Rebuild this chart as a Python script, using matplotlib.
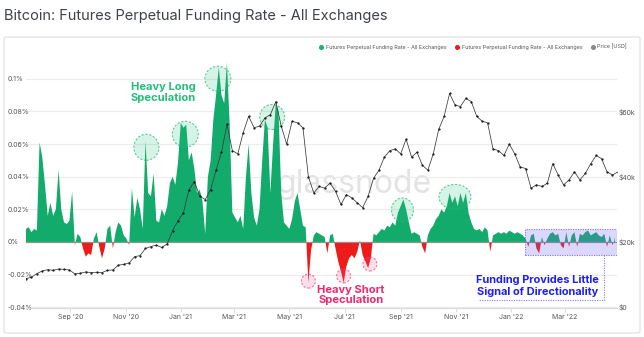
import matplotlib
matplotlib.use("Agg")
import matplotlib.pyplot as plt
import matplotlib.dates as mdates
from matplotlib.patches import Ellipse, Rectangle, FancyBboxPatch
from matplotlib.transforms import ScaledTranslation
from matplotlib.lines import Line2D
import numpy as np
import pandas as pd

# -----------------------------
# Data
# -----------------------------
start_date = "2020-07-14"

# funding rate in %, one value every 3 days
funding_rate = [
    0.008, 0.009, 0.006, 0.008, 0.007, 0.061, 0.052, 0.035, 0.016, 0.024,
    0.016, 0.020, 0.044, 0.020, 0.012, 0.011, 0.013, 0.031, -0.002, 0.005,
    0.003, -0.004, -0.009, -0.007, -0.008, 0.002, 0.006, -0.003, -0.010, -0.004,
    0.008, 0.010, -0.004, 0.006, 0.012, 0.010, 0.004, 0.002, -0.002, 0.033,
    0.015, 0.027, 0.020, 0.008, 0.062, 0.030, 0.028, 0.042, 0.013, 0.012,
    0.020, 0.016, 0.022, 0.036, 0.040, 0.035, 0.049, 0.073, 0.070, 0.072,
    0.050, 0.055, 0.045, 0.030, 0.032, 0.025, 0.005, 0.040, 0.050, 0.075,
    0.090, 0.107, 0.090, 0.085, 0.110, 0.073, 0.018, 0.015, 0.012, 0.016,
    0.008, 0.040, 0.060, 0.030, 0.015, 0.010, 0.020, 0.050, 0.075, 0.070,
    0.030, 0.060, 0.085, 0.080, 0.030, 0.012, 0.010, 0.008, 0.014, 0.025,
    0.030, 0.020, 0.010, 0.009, -0.025, -0.005, 0.004, 0.006, 0.005, 0.004,
    0.003, -0.007, 0.004, 0.005, -0.004, -0.012, -0.018, -0.025, -0.015, -0.010,
    -0.008, -0.010, -0.006, 0.001, -0.008, -0.012, -0.016, -0.010, 0.005, 0.004,
    0.006, 0.008, 0.007, 0.010, 0.009, 0.012, 0.010, 0.018, 0.022, 0.026,
    0.020, 0.012, 0.005, 0.006, 0.005, 0.004, -0.003, -0.007, 0.004, 0.008,
    0.010, 0.014, 0.016, 0.020, 0.018, 0.022, 0.030, 0.024, 0.028, 0.022,
    0.030, 0.024, 0.030, 0.018, 0.012, 0.008, 0.007, 0.008, 0.006, 0.009,
    0.007, -0.006, 0.004, 0.005, 0.006, 0.005, 0.006, 0.005, 0.007, 0.006,
    0.005, 0.006, 0.005, 0.004, 0.002, -0.003, 0.004, 0.005, -0.004, -0.007,
    0.003, -0.002, 0.002, 0.005, 0.006, 0.004, 0.005, -0.002, -0.004, 0.006,
    -0.003, 0.004, 0.006, -0.003, 0.005, 0.004, 0.006, 0.007, 0.004, 0.005,
    0.006, 0.004, 0.003, 0.005, -0.003, 0.004, -0.002, 0.003,
]

# BTC price in USD, one value every 6 days
price_usd = [
    8700, 9200, 10300, 11100, 11500, 11300, 11700, 11600, 11400, 10200,
    10400, 10800, 10600, 10700, 10600, 11300, 11400, 12900, 13100, 13600,
    15500, 15800, 18000, 18600, 19000, 18300, 19400, 23500, 26500, 29000,
    36000, 38500, 34000, 33000, 36000, 42000, 47500, 56000, 48000, 47000,
    53500, 58500, 55000, 55500, 58000, 59000, 63000, 55500, 50000, 57000,
    56500, 55000, 40000, 35000, 37000, 36500, 38000, 35500, 31500, 34500,
    33500, 32000, 30500, 34000, 39500, 42000, 46000, 48000, 48500, 47000,
    51500, 46000, 47500, 43500, 42000, 47000, 54500, 58500, 65500, 62000,
    61500, 64000, 63000, 58500, 57000, 56500, 48500, 48000, 46500, 50000,
    47000, 43000, 42500, 36500, 37500, 37000, 38000, 44000, 40500, 37500,
    39000, 41500, 39000, 41000, 44000, 46500, 45500, 41500, 40500, 41500,
]

funding_dates = pd.date_range(start_date, periods=len(funding_rate), freq="3D")
price_dates = pd.date_range(start_date, periods=len(price_usd), freq="6D")

# highlighted spots
long_dates = ["2020-11-24", "2021-01-06", "2021-02-11", "2021-04-12", "2021-09-03", "2021-10-31"]
long_rates = [0.058, 0.066, 0.100, 0.0766, 0.0196, 0.0276]
long_sizes = [(25, 26), (26, 26), (26, 25), (25, 25), (22, 24), (32, 25)]

short_dates = ["2021-05-22", "2021-06-30", "2021-07-29"]
short_rates = [-0.024, -0.0208, -0.0135]

y_ticks = [-0.04, -0.02, 0, 0.02, 0.04, 0.06, 0.08, 0.1]
y_labels = ["-0.04%", "-0.02%", "0%", "0.02%", "0.04%", "0.06%", "0.08%", "0.1%"]
price_ticks = [0, 20000, 40000, 60000]
price_labels = ["$0", "$20k", "$40k", "$60k"]

GREEN = "#13ab6c"
RED = "#ee1b1b"
TEXT_GREEN = "#22c07a"
PINK = "#f0286e"
BLUE = "#1f1ff0"

plt.rcParams["font.family"] = ["Inter", "DejaVu Sans"]

fig = plt.figure(figsize=(6.44, 3.37), dpi=100)
fig.patch.set_facecolor("white")

# card outline (kept behind the axes)
card = FancyBboxPatch((4 / 644, 1 - 333 / 337), 636 / 644, 296 / 337,
                      boxstyle="round,pad=0,rounding_size=0.005",
                      transform=fig.transFigure, facecolor="white",
                      edgecolor="#e4e4e4", lw=1.0, zorder=-10)
fig.patches.append(card)

fig.text(4 / 644, 1 - 16 / 337, "Bitcoin: Futures Perpetual Funding Rate - All Exchanges",
         fontsize=10.5, color="#3f4248", va="center", ha="left")

ax = fig.add_axes([26 / 644, 1 - 308 / 337, 591 / 644, 253 / 337])
ax.set_facecolor("none")
ax2 = ax.twinx()

ymin, ymax = -0.0405, 0.1146
ax.set_ylim(ymin, ymax)
ax2.set_ylim(20000 + ymin * 500000, 20000 + ymax * 500000)
ax.set_xlim(pd.Timestamp(start_date), pd.Timestamp("2022-04-28"))

# watermark
ax.text(0.555, 0.49, "glassnode", transform=ax.transAxes, fontsize=23,
        color="#e3e3e3", ha="center", va="center", zorder=1)

fr = np.array(funding_rate)
ax.fill_between(funding_dates, 0, fr, where=fr >= 0, interpolate=True,
                color=GREEN, lw=0, zorder=2)
ax.fill_between(funding_dates, 0, fr, where=fr < 0, interpolate=True,
                color=RED, lw=0, zorder=2)
ax.axhline(0, color="#8f8f8f", lw=0.8, zorder=2.5)

# price on the right axis, drawn above the fills
ax2.plot(price_dates, price_usd, color="#3a3a3a", lw=0.55, marker="o",
         ms=0.6, mfc="#111111", mec="#111111", zorder=3)
ax2.set_zorder(ax.get_zorder() + 1)
ax2.patch.set_visible(False)

# grid and ticks
ax.set_yticks(y_ticks)
ax.set_yticklabels(y_labels)
ax.grid(axis="y", color="#ececec", lw=0.8, zorder=0)
ax.tick_params(axis="y", length=0, labelsize=5, labelcolor="#555555", pad=13)
for lab in ax.get_yticklabels():
    lab.set_ha("left")

ax2.set_yticks(price_ticks)
ax2.set_yticklabels(price_labels)
ax2.tick_params(axis="y", length=0, labelsize=5, labelcolor="#555555", pad=1)

ax.xaxis.set_major_locator(mdates.MonthLocator(bymonth=[1, 3, 5, 7, 9, 11]))
ax.xaxis.set_major_formatter(mdates.DateFormatter("%b '%y"))
ax.tick_params(axis="x", length=3, color="#dddddd", labelsize=5,
               labelcolor="#555555", pad=1.5)
for a in (ax, ax2):
    for side in ("top", "left", "right"):
        a.spines[side].set_visible(False)
    a.spines["bottom"].set_color("#dddddd")
    a.spines["bottom"].set_linewidth(0.8)

# dashed highlight circles, sized in pixels and anchored in data space
def spot(x, y, w, h, face, edge):
    tr = fig.dpi_scale_trans + ScaledTranslation(mdates.date2num(pd.Timestamp(x)), y, ax.transData)
    e = Ellipse((0, 0), w / 100, h / 100, transform=tr, facecolor=face,
                edgecolor=edge, lw=0.8, ls=(0, (2, 1.5)), zorder=4)
    ax.add_artist(e)

for d, r, (w, h) in zip(long_dates, long_rates, long_sizes):
    spot(d, r, w, h, (0.13, 0.75, 0.48, 0.18), (0.13, 0.72, 0.45, 0.7))
for d, r in zip(short_dates, short_rates):
    spot(d, r, 14, 14, (0.95, 0.3, 0.55, 0.18), (0.94, 0.25, 0.5, 0.7))

# directionality box and connector
x0 = mdates.date2num(pd.Timestamp("2022-01-16"))
x1 = mdates.date2num(pd.Timestamp("2022-04-28"))
ax.add_patch(Rectangle((x0, -0.008), x1 - x0, 0.016, facecolor=(0.45, 0.4, 0.95, 0.25),
                       edgecolor=(0.4, 0.35, 0.95, 0.8), lw=0.8, ls=(0, (1, 1.2)), zorder=4))
cx = pd.Timestamp("2022-04-14")
ax.plot([cx, cx, pd.Timestamp("2021-11-25")], [-0.008, -0.0356, -0.0356],
        color=(0.4, 0.35, 0.95, 0.8), lw=0.8, ls=(0, (1, 1.2)), zorder=4)

# annotations
ax.text(pd.Timestamp("2020-12-13"), 0.0917, "Heavy Long\nSpeculation", color=TEXT_GREEN,
        fontsize=8, fontweight="bold", ha="center", va="center", linespacing=1.1, zorder=5)
ax.text(pd.Timestamp("2021-07-08"), -0.0325, "Heavy Short\nSpeculation", color=PINK,
        fontsize=8, fontweight="bold", ha="center", va="center", linespacing=1.1, zorder=5)
ax.text(pd.Timestamp("2022-01-30"), -0.0270, "Funding Provides Little\nSignal of Directionality",
        color=BLUE, fontsize=7.9, fontweight="bold", ha="center", va="center",
        linespacing=1.15, zorder=5)

# legend
handles = [
    Line2D([], [], ls="", marker="o", ms=2.6, color="#19b36f"),
    Line2D([], [], ls="", marker="o", ms=2.6, color=RED),
    Line2D([], [], ls="", marker="o", ms=2.6, color="#8a8a8a"),
]
labels = ["Futures Perpetual Funding Rate - All Exchanges",
          "Futures Perpetual Funding Rate - All Exchanges",
          "Price [USD]"]
fig.legend(handles, labels, ncol=3, loc="center right", bbox_to_anchor=(632 / 644, 1 - 47 / 337),
           frameon=False, fontsize=3.9, handlelength=0.8, handletextpad=0.4,
           columnspacing=1.6, labelcolor="#555555")

fig.savefig("out.png", dpi=100)
